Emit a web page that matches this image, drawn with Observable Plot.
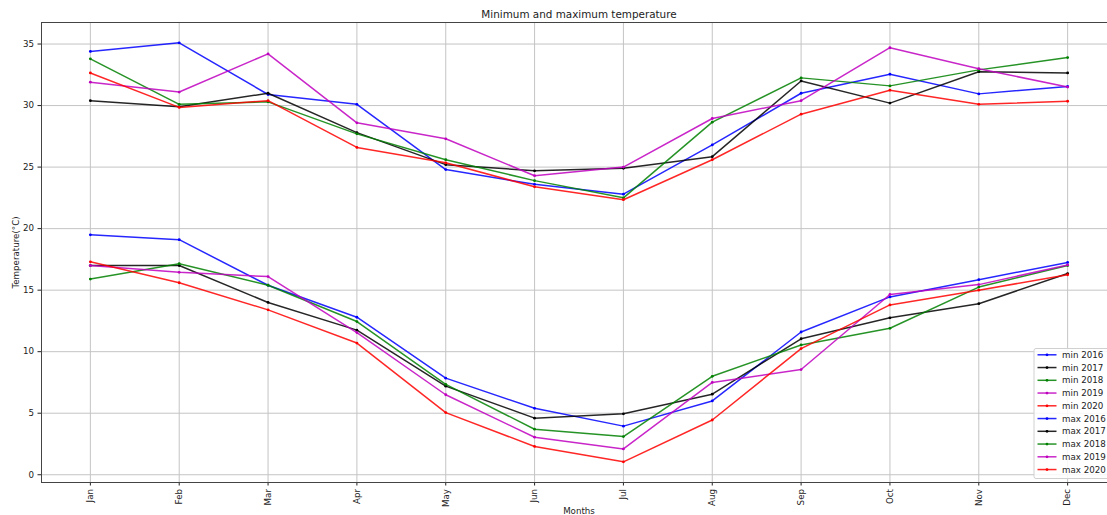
<!DOCTYPE html>
<html>
<head>
<meta charset="utf-8">
<script src="https://cdn.jsdelivr.net/npm/d3@7"></script>
<script src="https://cdn.jsdelivr.net/npm/@observablehq/plot@0.6"></script>
<style>
  html, body { margin: 0; padding: 0; background: #fff; overflow: hidden; }
  #chart { position: relative; width: 1116px; height: 515px; }
</style>
</head>
<body>
<div id="chart"></div>
<script>
const months = ["Jan","Feb","Mar","Apr","May","Jun","Jul","Aug","Sep","Oct","Nov","Dec"];
const years = [2016, 2017, 2018, 2019, 2020];
const yearColors = ["#0000ff", "#000000", "#008000", "#bf00bf", "#ff0000"];
const yTicks = [0, 5, 10, 15, 20, 25, 30, 35];

const min2016 = [19.5, 19.1, 15.4, 12.8, 7.85, 5.4, 3.95, 6.0, 11.6, 14.45, 15.85, 17.25];
const min2017 = [17.0, 17.0, 14.0, 11.75, 7.2, 4.6, 4.95, 6.55, 11.05, 12.75, 13.9, 16.35];
const min2018 = [15.9, 17.15, 15.4, 12.45, 7.35, 3.7, 3.1, 8.0, 10.55, 11.9, 15.25, 17.0];
const min2019 = [17.0, 16.45, 16.1, 11.55, 6.5, 3.05, 2.1, 7.5, 8.55, 14.65, 15.45, 17.05];
const min2020 = [17.3, 15.6, 13.4, 10.7, 5.05, 2.3, 1.05, 4.45, 10.25, 13.8, 15.0, 16.25];

const max2016 = [34.4, 35.1, 30.9, 30.1, 24.8, 23.6, 22.8, 26.8, 31.0, 32.55, 30.95, 31.55];
const max2017 = [30.4, 29.9, 31.0, 27.8, 25.2, 24.7, 24.9, 25.85, 32.0, 30.2, 32.75, 32.65];
const max2018 = [33.8, 30.1, 30.3, 27.7, 25.6, 23.9, 22.5, 28.65, 32.25, 31.6, 32.9, 33.9];
const max2019 = [31.9, 31.1, 34.2, 28.6, 27.3, 24.3, 25.0, 28.95, 30.4, 34.7, 33.0, 31.5];
const max2020 = [32.65, 29.85, 30.4, 26.6, 25.35, 23.4, 22.35, 25.6, 29.3, 31.25, 30.1, 30.35];

const seriesList = [
  {name: "min 2016", values: min2016, color: yearColors[0]},
  {name: "min 2017", values: min2017, color: yearColors[1]},
  {name: "min 2018", values: min2018, color: yearColors[2]},
  {name: "min 2019", values: min2019, color: yearColors[3]},
  {name: "min 2020", values: min2020, color: yearColors[4]},
  {name: "max 2016", values: max2016, color: yearColors[0]},
  {name: "max 2017", values: max2017, color: yearColors[1]},
  {name: "max 2018", values: max2018, color: yearColors[2]},
  {name: "max 2019", values: max2019, color: yearColors[3]},
  {name: "max 2020", values: max2020, color: yearColors[4]}
];

const rows = [];
seriesList.forEach((s, si) => s.values.forEach((v, i) => rows.push({series: s.name, si, month: i, value: v, color: s.color})));

const marks = [
  Plot.gridX(d3.range(12), {stroke: "#c4c4c4", strokeOpacity: 1, strokeWidth: 1}),
  Plot.gridY(yTicks, {stroke: "#c4c4c4", strokeOpacity: 1, strokeWidth: 1}),
  Plot.frame({stroke: "#444", strokeWidth: 1})
];
seriesList.forEach((s) => {
  const d = rows.filter(r => r.series === s.name);
  marks.push(Plot.line(d, {x: "month", y: "value", stroke: s.color, strokeWidth: 1.5, strokeOpacity: 0.85}));
  marks.push(Plot.dot(d, {x: "month", y: "value", fill: s.color, r: 1.4, stroke: "none"}));
});
marks.push(Plot.text(["Minimum and maximum temperature"], {
  frameAnchor: "top", x: 5.5, dy: -8, lineAnchor: "middle", text: d => d, fontSize: 10.4, fill: "#222"
}));

const plot = Plot.plot({
  width: 1116,
  height: 515,
  marginLeft: 41,
  marginRight: 0,
  marginTop: 22,
  marginBottom: 33,
  style: {fontFamily: "DejaVu Sans", fontSize: "8.7px", color: "#222", background: "#fff"},
  x: {
    type: "linear",
    domain: [-0.55, 11.55],
    ticks: d3.range(12),
    tickFormat: i => months[i],
    tickRotate: -90,
    tickSize: 3.5,
    tickPadding: 3,
    label: "Months",
    labelAnchor: "center",
    labelArrow: "none",
    labelOffset: 31
  },
  y: {
    domain: [-0.63, 36.75],
    ticks: yTicks,
    tickSize: 3.5,
    tickPadding: 4,
    label: "Temperature(°C)",
    labelAnchor: "center",
    labelArrow: "none",
    labelOffset: 29
  },
  marks
});
document.getElementById("chart").appendChild(plot);

// Legend inside the plot area (lower right)
const svg = d3.select(plot);
const lg = svg.append("g").attr("class", "legend")
  .attr("font-family", "DejaVu Sans").attr("font-size", "8.7px").attr("text-anchor", "start");
const lx = 1034, ly = 348.5, rowH = 12.75;
lg.append("rect").attr("x", lx).attr("y", ly).attr("width", 90).attr("height", 130)
  .attr("rx", 2).attr("fill", "#fff").attr("fill-opacity", 0.85).attr("stroke", "#d0d0d0");
seriesList.forEach((s, i) => {
  const cy = ly + 6.3 + i * rowH;
  lg.append("line").attr("x1", lx + 3.5).attr("x2", lx + 22.5).attr("y1", cy).attr("y2", cy)
    .attr("stroke", s.color).attr("stroke-width", 1.5).attr("stroke-opacity", 0.85);
  lg.append("circle").attr("cx", lx + 13).attr("cy", cy).attr("r", 1.4).attr("fill", s.color);
  lg.append("text").attr("x", lx + 28).attr("y", cy).attr("dy", "0.35em")
    .attr("text-anchor", "start").attr("fill", "#222").text(s.name);
});
</script>
</body>
</html>
